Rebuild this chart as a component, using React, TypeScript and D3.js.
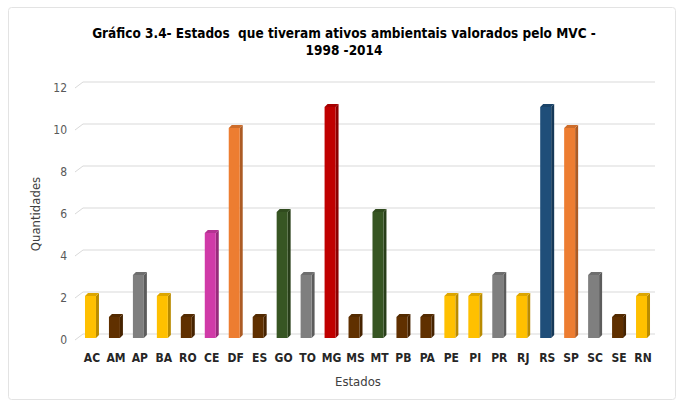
import React, { useEffect, useRef } from "react";
import * as d3 from "d3";

const estados = ["AC", "AM", "AP", "BA", "RO", "CE", "DF", "ES", "GO", "TO", "MG", "MS", "MT", "PB", "PA", "PE", "PI", "PR", "RJ", "RS", "SP", "SC", "SE", "RN"];
const quantidades = [2, 1, 3, 2, 1, 5, 10, 1, 6, 3, 11, 1, 6, 1, 1, 2, 2, 3, 2, 11, 10, 3, 1, 2];
const cores = ["#FFC000", "#603000", "#7F7F7F", "#FFC000", "#603000", "#D03AA8", "#ED7D31", "#603000", "#375623", "#7F7F7F", "#C00000", "#603000", "#375623", "#603000", "#603000", "#FFC000", "#FFC000", "#7F7F7F", "#FFC000", "#1F4E79", "#ED7D31", "#7F7F7F", "#603000", "#FFC000"];
const yTicks = [0, 2, 4, 6, 8, 10, 12];

const font = "'DejaVu Sans Condensed', 'Liberation Sans Narrow', sans-serif";

const App = () => {
  const ref = useRef<SVGSVGElement>(null);
  const width = 683;
  const height = 407;

  useEffect(() => {
    document.body.style.margin = "0";
    const svg = d3.select(ref.current);
    svg.selectAll("*").remove();

    const x = d3.scaleBand().domain(estados).range([80, 655]).paddingInner(0.5).paddingOuter(0.25);
    const y = d3.scaleLinear().domain([0, 12]).range([338, 86]);

    svg.append("rect").attr("x", 8.5).attr("y", 7.5).attr("width", 667).attr("height", 392)
      .attr("rx", 3).attr("fill", "#fff").attr("stroke", "#e3e3e3");

    // gridlines (back wall + floor slant)
    const g = svg.append("g");
    yTicks.forEach((t) => {
      const yy = y(t);
      g.append("path")
        .attr("d", `M75,${yy + 2} L83,${yy - 4} L655,${yy - 4}`)
        .attr("fill", "none").attr("stroke", "#d9d9d9").attr("stroke-width", 1);
      g.append("text").attr("x", 67).attr("y", yy + 2).attr("text-anchor", "end")
        .attr("dominant-baseline", "middle").attr("font-family", font).attr("font-size", 12)
        .attr("fill", "#595959").text(t);
    });

    const depth = 3;
    const bw = x.bandwidth() - 1;
    const bars = svg.append("g");
    estados.forEach((e, i) => {
      const x0 = x(e)! + (x.bandwidth() - bw - depth) / 2;
      const y0 = y(quantidades[i]);
      const y1 = y(0);
      const c = d3.color(cores[i])!;
      bars.append("path")
        .attr("d", `M${x0 + bw},${y0} L${x0 + bw + depth},${y0 - depth} L${x0 + bw + depth},${y1 - depth} L${x0 + bw},${y1} Z`)
        .attr("fill", c.darker(0.9).toString());
      bars.append("path")
        .attr("d", `M${x0},${y0} L${x0 + depth},${y0 - depth} L${x0 + bw + depth},${y0 - depth} L${x0 + bw},${y0} Z`)
        .attr("fill", c.darker(0.4).toString());
      bars.append("rect").attr("x", x0).attr("y", y0).attr("width", bw).attr("height", y1 - y0)
        .attr("fill", cores[i]);
    });

    svg.append("g").selectAll("text").data(estados).enter().append("text")
      .attr("x", (d) => x(d)! + x.bandwidth() / 2)
      .attr("y", 358).attr("text-anchor", "middle").attr("dominant-baseline", "middle")
      .attr("font-family", font).attr("font-size", 12).attr("font-weight", "bold")
      .attr("fill", "#262626").text((d) => d);

    svg.append("text").attr("x", 358).attr("y", 382).attr("text-anchor", "middle")
      .attr("dominant-baseline", "middle").attr("font-family", font).attr("font-size", 13)
      .attr("fill", "#404040").text("Estados");

    svg.append("text").attr("transform", "translate(36,214) rotate(-90)").attr("text-anchor", "middle")
      .attr("dominant-baseline", "middle").attr("font-family", font).attr("font-size", 13)
      .attr("fill", "#404040").text("Quantidades");

    const title = svg.append("text").attr("text-anchor", "middle").attr("font-family", font)
      .attr("font-size", 13.5).attr("font-weight", "bold").attr("fill", "#000")
      .attr("xml:space", "preserve");
    title.append("tspan").attr("x", 344).attr("y", 38).text("Gráfico 3.4- Estados  que tiveram ativos ambientais valorados pelo MVC -");
    title.append("tspan").attr("x", 344).attr("y", 55).text("1998 -2014");
  }, []);

  return <svg ref={ref} width={width} height={height} style={{ display: "block" }} />;
};

export default App;
